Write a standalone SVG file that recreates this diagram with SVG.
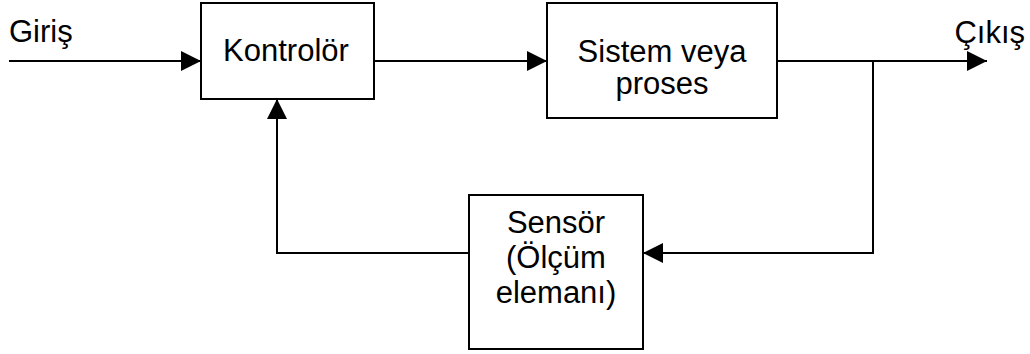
<svg xmlns="http://www.w3.org/2000/svg" width="1030" height="354" viewBox="0 0 1030 354">
  <style>
    .box { fill: #ffffff; stroke: #000000; stroke-width: 2; }
    .wire { fill: none; stroke: #000000; stroke-width: 2; }
    .lbl { font-family: "Liberation Sans", Arial, sans-serif; font-size: 31px; fill: #000000; }
    .mid { text-anchor: middle; }
    .end { text-anchor: end; }
  </style>
  <defs>
    <marker id="arrow" viewBox="0 0 20 20" refX="20" refY="10" markerWidth="20" markerHeight="20" markerUnits="userSpaceOnUse" orient="auto">
      <path d="M0,0 L20,10 L0,20 Z" fill="#000000"/>
    </marker>
  </defs>
  <rect width="1030" height="354" fill="#ffffff"/>

  <!-- signal paths -->
  <g id="connectors">
    <line class="wire" x1="9" y1="61" x2="201" y2="61" marker-end="url(#arrow)"/>
    <line class="wire" x1="374" y1="61" x2="547" y2="61" marker-end="url(#arrow)"/>
    <line class="wire" x1="777" y1="61" x2="987" y2="61" marker-end="url(#arrow)"/>
    <polyline class="wire" points="873,61 873,253 643,253" marker-end="url(#arrow)"/>
    <polyline class="wire" points="469,253 277,253 277,99" marker-end="url(#arrow)"/>
  </g>

  <g id="input-label">
    <text class="lbl" x="9" y="42">Giriş</text>
  </g>
  <g id="output-label">
    <text class="lbl end" x="1025" y="43">Çıkış</text>
  </g>

  <g id="controller">
    <rect class="box" x="201" y="3" width="173" height="96"/>
    <text class="lbl mid" x="286" y="61">Kontrolör</text>
  </g>

  <g id="plant">
    <rect class="box" x="547" y="3" width="230" height="115"/>
    <text class="lbl mid" x="662" y="62">Sistem veya</text>
    <text class="lbl mid" x="662" y="94">proses</text>
  </g>

  <g id="sensor">
    <rect class="box" x="469" y="195" width="174" height="154"/>
    <text class="lbl mid" x="556" y="233">Sensör</text>
    <text class="lbl mid" x="556" y="268">(Ölçüm</text>
    <text class="lbl mid" x="556" y="303">elemanı)</text>
  </g>
</svg>
